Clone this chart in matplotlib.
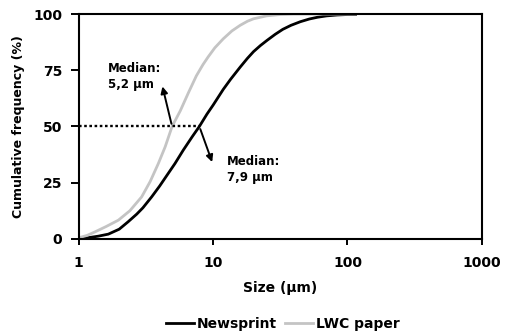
import matplotlib
matplotlib.use("Agg")
import matplotlib.pyplot as plt

plt.rcParams["font.family"] = ["DejaVu Sans"]
plt.rcParams["font.weight"] = "bold"

# Cumulative size distributions (size in um, cumulative %).
news_size = [1.0, 1.2, 1.4, 1.66, 2.0, 2.33, 2.7, 3.0, 3.49, 4.0, 4.5, 5.2, 6.0, 7.0, 7.9,
             9.0, 10, 11.9, 13.5, 15.9, 18, 20, 22.5, 25.2, 29, 33, 38, 44.6, 52, 60, 70, 84, 100, 115]
news_cum = [0.0, 0.6, 1.2, 2.1, 4.3, 7.6, 11, 13.8, 18.7, 23.5, 28, 33.5, 39.5, 45.5, 50,
            55.5, 59.5, 66.5, 71, 76.4, 80.3, 83.3, 86, 88.3, 91, 93.2, 95, 96.6, 97.8, 98.6, 99.2, 99.6, 99.8, 99.8]

lwc_size = [1.0, 1.15, 1.32, 1.6, 1.97, 2.4, 2.94, 3.4, 3.91, 4.4, 4.95, 5.7, 6.55, 7.5, 8.4,
            9.2, 10.3, 11.9, 13.8, 15.9, 18, 20, 25, 31.6, 40, 115]
lwc_cum = [0.5, 1.5, 3.1, 5.5, 8.3, 12.5, 18.7, 25.5, 33.5, 41, 50, 57, 65, 72.5, 77.5,
           81, 85, 89, 92.5, 95, 96.8, 97.9, 99.2, 99.8, 100, 100]

medians = [5.2, 7.9]
median_labels = ["Median:\n5,2 \u00b5m", "Median:\n7,9 \u00b5m"]

fig = plt.figure(figsize=(5.05, 3.35), dpi=100)
ax = fig.add_axes([0.156, 0.287, 0.798, 0.671])

ax.plot(news_size, news_cum, color="black", lw=2.0, label="Newsprint", solid_joinstyle="round")
ax.plot(lwc_size, lwc_cum, color="#c4c4c4", lw=2.0, label="LWC paper", solid_joinstyle="round")

# dotted median guide line
ax.plot([1, medians[1]], [50, 50], color="black", lw=1.7, ls=(0, (1.1, 1.1)))

arrow = dict(arrowstyle="-|>", color="black", lw=1.4, mutation_scale=10)
ax.annotate("", xy=(4.15, 69), xytext=(4.95, 50), arrowprops=arrow)
ax.annotate("", xy=(10.0, 33), xytext=(medians[1], 50), arrowprops=arrow)
ax.text(1.65, 78.5, median_labels[0], fontsize=8.5, fontweight="bold", va="top", ha="left", linespacing=1.3)
ax.text(12.7, 37.5, median_labels[1], fontsize=8.5, fontweight="bold", va="top", ha="left", linespacing=1.3)

ax.set_xscale("log")
ax.set_xlim(1, 1000)
ax.set_ylim(0, 100)
ax.set_xticks([1, 10, 100, 1000])
ax.set_xticklabels(["1", "10", "100", "1000"])
ax.set_yticks([0, 25, 50, 75, 100])
ax.minorticks_off()
ax.tick_params(axis="x", direction="out", length=4, width=1.4, pad=8, labelsize=10)
ax.tick_params(axis="y", direction="out", length=6, width=1.4, pad=6, labelsize=10)
for s in ax.spines.values():
    s.set_linewidth(1.5)

ax.set_xlabel("Size (\u00b5m)", fontsize=10, fontweight="bold", labelpad=8)
ax.set_ylabel("Cumulative frequency (%)", fontsize=9, fontweight="bold", labelpad=6)

fig.legend(loc="lower center", bbox_to_anchor=(0.56, -0.025), ncol=2, frameon=False,
           fontsize=10, handlelength=2.0, handletextpad=0.2, columnspacing=0.6)

fig.savefig("out.png", dpi=100)
